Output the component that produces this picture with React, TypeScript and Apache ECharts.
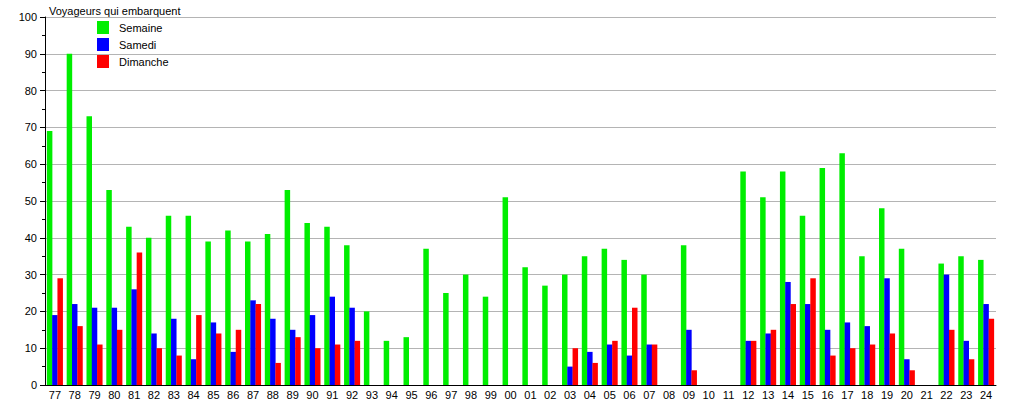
import React, { useEffect, useRef } from "react";
import * as echarts from "echarts";

const years = [
  "77","78","79","80","81","82","83","84","85","86","87","88","89","90","91","92",
  "93","94","95","96","97","98","99","00","01","02",
  "03","04","05","06","07","08","09","10","11",
  "12","13","14","15","16","17","18","19","20","21","22","23","24",
];

const semaine = [
  69, 90, 73, 53, 43, 40, 46, 46, 39, 42, 39, 41, 53, 44, 43, 38,
  20, 12, 13, 37, 25, 30, 24, 51, 32, 27,
  30, 35, 37, 34, 30, null, 38, null, null,
  58, 51, 58, 46, 59, 63, 35, 48, 37, null, 33, 35, 34,
];

const samedi = [
  19, 22, 21, 21, 26, 14, 18, 7, 17, 9, 23, 18, 15, 19, 24, 21,
  null, null, null, null, null, null, null, null, null, null,
  5, 9, 11, 8, 11, null, 15, null, null,
  12, 14, 28, 22, 15, 17, 16, 29, 7, null, 30, 12, 22,
];

const dimanche = [
  29, 16, 11, 15, 36, 10, 8, 19, 14, 15, 22, 6, 13, 10, 11, 12,
  null, null, null, null, null, null, null, null, null, null,
  10, 6, 12, 21, 11, null, 4, null, null,
  12, 15, 22, 29, 8, 10, 11, 14, 4, null, 15, 7, 18,
];

const yTicks = { min: 0, max: 100, interval: 10 };

export default function App() {
  const ref = useRef<HTMLDivElement>(null);
  useEffect(() => {
    if (!ref.current) return;
    const chart = echarts.init(ref.current, undefined, { renderer: "svg" });
    const font = "Liberation Sans, Arial, sans-serif";
    const barBase = { type: "bar" as const, barWidth: 5.5, barGap: "-4%" };
    chart.setOption({
      animation: false,
      textStyle: { fontFamily: font },
      title: {
        text: "Voyageurs qui embarquent",
        left: 44,
        top: 0,
        textStyle: { fontSize: 11, fontWeight: "normal", color: "#000", fontFamily: font },
      },
      legend: {
        orient: "vertical",
        left: 97,
        top: 21,
        itemWidth: 12,
        itemHeight: 13,
        itemGap: 4,
        icon: "rect",
        padding: 0,
        textStyle: { fontSize: 11, color: "#000", fontFamily: font, padding: [0, 0, 0, 5] },
        data: ["Semaine", "Samedi", "Dimanche"],
      },
      grid: { left: 45, right: 19, top: 17, bottom: 13, containLabel: false },
      xAxis: {
        type: "category",
        data: years,
        axisLine: { lineStyle: { color: "#000", width: 1 } },
        axisTick: { show: false },
        axisLabel: { color: "#000", fontSize: 11, margin: 4, interval: 0, fontFamily: font },
      },
      yAxis: {
        type: "value",
        min: yTicks.min,
        max: yTicks.max,
        interval: yTicks.interval,
        axisLine: { show: true, lineStyle: { color: "#000", width: 1 } },
        axisTick: { show: true, inside: false, length: 5, lineStyle: { color: "#000" } },
        minorTick: { show: true, splitNumber: 2, length: 3, lineStyle: { color: "#000" } },
        axisLabel: { color: "#000", fontSize: 11, margin: 8, fontFamily: font },
        splitLine: { show: true, lineStyle: { color: "#b4b4b4", width: 1 } },
      },
      series: [
        { ...barBase, name: "Semaine", data: semaine, itemStyle: { color: "#00ee00" } },
        { ...barBase, name: "Samedi", data: samedi, itemStyle: { color: "#0000ff" } },
        { ...barBase, name: "Dimanche", data: dimanche, itemStyle: { color: "#ff0000" } },
      ],
    });
    return () => chart.dispose();
  }, []);
  return (
    <div
      ref={ref}
      style={{ position: "fixed", left: 0, top: 0, width: 1015, height: 400, background: "#fff" }}
    />
  );
}
